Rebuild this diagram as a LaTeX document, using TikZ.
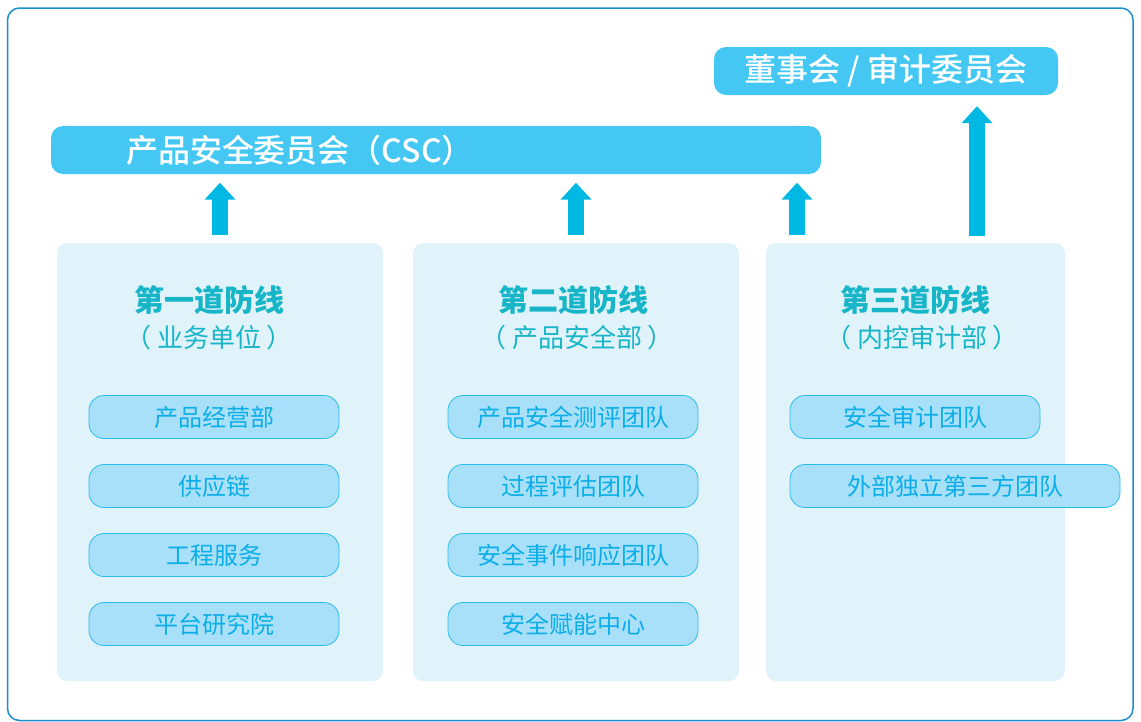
\documentclass[tikz,border=0pt]{standalone}
\usepackage{fontspec}
\setmainfont{Noto Sans CJK SC}
\newfontfamily\barfont{Noto Sans CJK SC Medium}
\usetikzlibrary{arrows.meta,positioning}
\definecolor{frameblue}{HTML}{1B8ED1}
\definecolor{barblue}{HTML}{44C8F3}
\definecolor{arrowblue}{HTML}{00B8E4}
\definecolor{colbg}{HTML}{E1F3FA}
\definecolor{boxfill}{HTML}{A9E0F9}
\definecolor{boxline}{HTML}{2ABDEB}
\definecolor{boxtext}{HTML}{0BAEE8}
\definecolor{headtext}{HTML}{17B5C8}
\begin{document}
\begin{tikzpicture}[x=1pt, y=-1pt,
		bar/.style={fill=barblue, rounded corners=12pt, minimum height=48pt, text=white, inner sep=0pt, font=\barfont\fontsize{32}{32}\selectfont},
		defence/.style={fill=colbg, rounded corners=10pt, inner sep=0pt, minimum height=438pt},
		unit/.style={draw=boxline, fill=boxfill, line width=0.8pt, rounded corners=15pt, minimum width=250pt, minimum height=43pt, inner sep=0pt, text=boxtext, font=\fontsize{24}{24}\selectfont},
		head/.style={text=headtext, inner sep=0pt, font=\fontsize{30}{30}\selectfont\bfseries},
		sub/.style={text=headtext, inner sep=0pt, font=\fontsize{26}{26}\selectfont},
		up/.style={draw=arrowblue, line width=15.5pt, -{Triangle[width=30pt,length=17pt]}}]
		\useasboundingbox (0,0) rectangle (1141,721);
		\draw[frameblue, line width=1.5pt, rounded corners=12pt] (7.5,8) rectangle (1133,720.5);
		% committees
		\node (csc) [bar, minimum width=770pt, text width=770pt, align=left] at (436,150) {\hspace*{75pt}产品安全委员会（CSC）};
		\node (board) [bar, minimum width=344pt] at (886,71) {董事会 / 审计委员会};
		% three lines of defence
		\node (line1) [defence, minimum width=326pt] at (220,462) {};
		\node (line2) [defence, minimum width=326pt] at (576,462) {};
		\node (line3) [defence, minimum width=299pt] at (915.5,462) {};
		\node (head1) [head] at (209,300) {第一道防线};
		\node (sub1) [sub] at (209,338) {（ 业务单位 ）};
		\node (head2) [head] at (573,300) {第二道防线};
		\node (sub2) [sub] at (577,338) {（ 产品安全部 ）};
		\node (head3) [head] at (915,300) {第三道防线};
		\node (sub3) [sub] at (922,338) {（ 内控审计部 ）};
		\foreach \name [count=\i] in {产品经营部, 供应链, 工程服务, 平台研究院}
			\node (a\i) [unit] at (214, {417+69*(\i-1)}) {\name};
		\foreach \name [count=\i] in {产品安全测评团队, 过程评估团队, 安全事件响应团队, 安全赋能中心}
			\node (b\i) [unit] at (573, {417+69*(\i-1)}) {\name};
		\node (c1) [unit] at (915,417) {安全审计团队};
		\node (c2) [unit, minimum width=330pt] at (955,486) {外部独立第三方团队};
		% arrows
		\coordinate (up3) at ([xshift=-118.5pt]line3.north);
		\coordinate (up4) at ([xshift=61.5pt]line3.north);
		\draw[up] ([yshift=8pt]line1.north) -- ([yshift=-8.5pt]csc.south -| line1.north);
		\draw[up] ([yshift=8pt]line2.north) -- ([yshift=-8.5pt]csc.south -| line2.north);
		\draw[up] ([yshift=8pt]up3) -- ([yshift=-8.5pt]csc.south -| up3);
		\draw[up] ([yshift=6.5pt]up4) -- ([yshift=-11pt]board.south -| up4);
\end{tikzpicture}
\end{document}
